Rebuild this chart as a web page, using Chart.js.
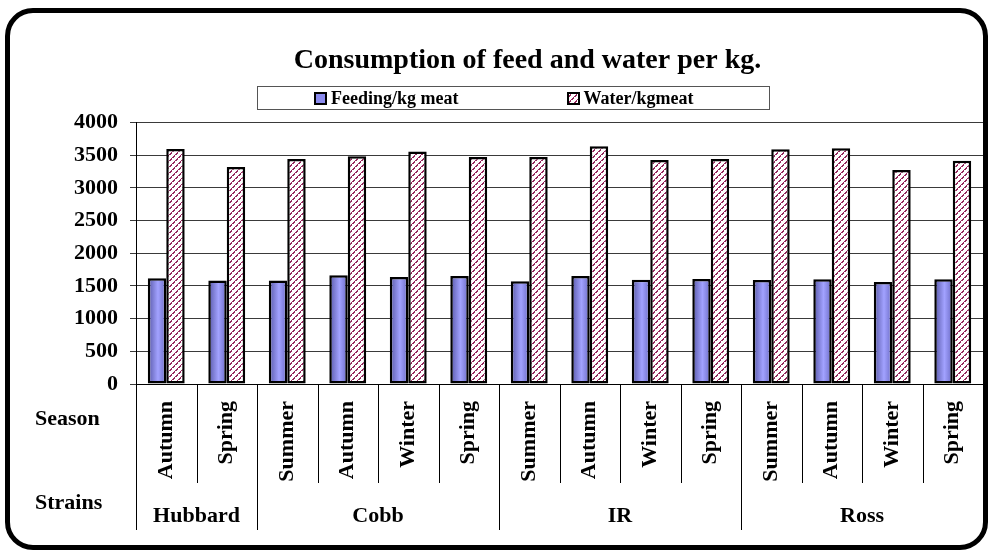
<!DOCTYPE html>
<html>
<head>
<meta charset="utf-8">
<script src="https://cdn.jsdelivr.net/npm/chart.js@4.4.1/dist/chart.umd.min.js"></script>
<style>
  html, body { margin: 0; padding: 0; background: #fff; }
  #wrap { position: relative; width: 989px; height: 552px; overflow: hidden; }
  #frame { position: absolute; left: 5px; top: 8px; width: 983px; height: 542px; box-sizing: border-box;
           border: 5px solid #000; border-radius: 28px; pointer-events: none; }
  #legend { position: absolute; left: 257px; top: 86px; width: 513px; height: 24px; box-sizing: border-box;
            border: 1px solid #555; display: flex; align-items: center; padding-left: 56px; white-space: nowrap;
            font: bold 18px 'Liberation Serif', 'Times New Roman', serif; color: #000; }
  #legend .item { display: flex; align-items: center; flex-shrink: 0; margin-right: 108px; }
  #legend canvas { width: 13px; height: 13px; margin-right: 4px; }
</style>
</head>
<body>
<div id="wrap">
  <canvas id="sleepless" width="989" height="552"></canvas>
  <div id="legend"></div>
  <div id="frame"></div>
</div>
<script>
// data
const seasons = ['Autumn', 'Spring', 'Summer', 'Autumn', 'Winter', 'Spring', 'Summer', 'Autumn', 'Winter', 'Spring', 'Summer', 'Autumn', 'Winter', 'Spring'];
const strains = ['Hubbard', 'Cobb', 'IR', 'Ross'];
const strainSizes = [2, 4, 4, 4];
const feedPerKg = [1617, 1582, 1582, 1663, 1638, 1653, 1571, 1653, 1597, 1607, 1592, 1602, 1561, 1602];
const waterPerKg = [3597, 3321, 3444, 3485, 3556, 3474, 3474, 3638, 3429, 3444, 3592, 3607, 3276, 3418];
const yMax = 4000;
const yStep = 500;

const FONT = "'Liberation Serif', 'Times New Roman', serif";
const catPct = 0.61;

// hatch for the water bars: dashed "/" stripes
function makeHatch() {
  const c = document.createElement('canvas');
  c.width = 6; c.height = 6;
  const g = c.getContext('2d');
  g.fillStyle = '#fff';
  g.fillRect(0, 0, 6, 6);
  g.fillStyle = '#96275d';
  for (let i = 0; i < 6; i++) {
    g.fillRect(5 - i, i, 1, 1);
    if (i % 3 !== 2) g.fillRect((6 - i) % 6, i, 1, 1);
  }
  return g.createPattern(c, 'repeat');
}
const hatch = makeHatch();

// shaded blue for the feed bars, one gradient per bar
function feedColor(ctx) {
  const chart = ctx.chart;
  const xs = chart.scales.x;
  if (ctx.type !== 'data' || !xs || !chart.chartArea) return '#8b8bee';
  const cw = xs.width / seasons.length;
  const bw = cw * catPct / 2;
  const cx = xs.getPixelForValue(ctx.dataIndex);
  const g = chart.ctx.createLinearGradient(cx - bw, 0, cx, 0);
  g.addColorStop(0, '#5656a6');
  g.addColorStop(0.55, '#a2a2ff');
  g.addColorStop(1, '#6a6ac4');
  return g;
}

// category table under the axis: separators, strain names, row headers
const tablePlugin = {
  id: 'categoryTable',
  afterDraw(chart) {
    const xs = chart.scales.x;
    const ctx = chart.ctx;
    const top = xs.top;
    const seasonBottom = 483;
    const strainBottom = 530;
    const edge = i => {
      if (i === 0) return xs.left;
      if (i === seasons.length) return xs.right;
      return (xs.getPixelForValue(i - 1) + xs.getPixelForValue(i)) / 2;
    };
    const groupEdges = [0];
    strainSizes.forEach(n => groupEdges.push(groupEdges[groupEdges.length - 1] + n));

    ctx.save();
    ctx.strokeStyle = '#000';
    ctx.lineWidth = 1;
    for (let i = 0; i <= seasons.length; i++) {
      const x = Math.round(edge(i)) + 0.5;
      const bottom = groupEdges.includes(i) ? strainBottom : seasonBottom;
      ctx.beginPath();
      ctx.moveTo(x, top);
      ctx.lineTo(x, bottom);
      ctx.stroke();
    }

    ctx.fillStyle = '#000';
    ctx.font = 'bold 22px ' + FONT;
    ctx.textAlign = 'center';
    ctx.textBaseline = 'middle';
    strains.forEach((s, k) => {
      const x = (edge(groupEdges[k]) + edge(groupEdges[k + 1])) / 2;
      ctx.fillText(s, x, 516);
    });

    ctx.textAlign = 'left';
    ctx.fillText('Season', 35, 419);
    ctx.fillText('Strains', 35, 503);
    ctx.restore();
  }
};

// legend in a bordered box, built from the chart's own legend items
const htmlLegend = {
  id: 'htmlLegend',
  afterUpdate(chart) {
    const box = document.getElementById('legend');
    box.innerHTML = '';
    const items = chart.options.plugins.legend.labels.generateLabels(chart);
    items.forEach(item => {
      const el = document.createElement('div');
      el.className = 'item';
      const sw = document.createElement('canvas');
      sw.width = 13; sw.height = 13;
      const g = sw.getContext('2d');
      g.fillStyle = item.datasetIndex === 0 ? '#8b8bee' : hatch;
      g.fillRect(0, 0, 13, 13);
      g.strokeStyle = '#000';
      g.lineWidth = 2;
      g.strokeRect(1, 1, 11, 11);
      const tx = document.createElement('span');
      tx.textContent = item.text;
      el.appendChild(sw);
      el.appendChild(tx);
      box.appendChild(el);
    });
  }
};

new Chart(document.getElementById('sleepless'), {
  type: 'bar',
  data: {
    labels: seasons,
    datasets: [
      {
        label: 'Feeding/kg meat',
        data: feedPerKg,
        backgroundColor: feedColor,
        borderColor: '#000',
        borderWidth: 2.5,
        borderSkipped: false,
        categoryPercentage: catPct,
        barPercentage: 1
      },
      {
        label: 'Water/kgmeat',
        data: waterPerKg,
        backgroundColor: hatch,
        borderColor: '#000',
        borderWidth: 2.5,
        borderSkipped: false,
        categoryPercentage: catPct,
        barPercentage: 1
      }
    ]
  },
  options: {
    responsive: false,
    animation: false,
    layout: { padding: { top: 10, left: 72, right: 6, bottom: 0 } },
    plugins: {
      legend: { display: false },
      tooltip: { enabled: false },
      title: {
        display: true,
        text: 'Consumption of feed and water per kg.',
        color: '#000',
        font: { family: FONT, size: 28, weight: 'bold', lineHeight: 1.2 },
        padding: { top: 34, bottom: 45 }
      }
    },
    scales: {
      x: {
        grid: { display: false },
        border: { display: true, color: '#000', width: 1 },
        ticks: {
          autoSkip: false,
          minRotation: 90,
          maxRotation: 90,
          padding: 9,
          color: '#000',
          font: { family: FONT, size: 22, weight: 'bold' }
        },
        afterFit(scale) { scale.height = 168; }
      },
      y: {
        min: 0,
        max: yMax,
        ticks: {
          stepSize: yStep,
          padding: 12,
          color: '#000',
          font: { family: FONT, size: 22, weight: 'bold' },
          callback: v => String(v)
        },
        grid: { color: '#3a3a3a', lineWidth: 1, tickLength: 6 },
        border: { display: true, color: '#000', width: 1 },
        afterFit(scale) { scale.width = 64; }
      }
    }
  },
  plugins: [tablePlugin, htmlLegend]
});
</script>
</body>
</html>
